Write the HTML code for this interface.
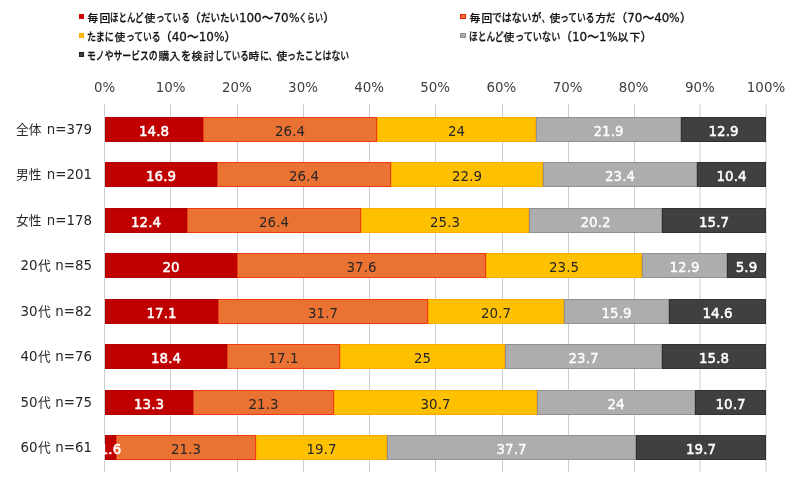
<!DOCTYPE html>
<html lang="ja"><head><meta charset="utf-8"><title>chart</title>
<style>
html,body{margin:0;padding:0;background:#fff;}
body{width:800px;height:486px;position:relative;overflow:hidden;font-family:"DejaVu Sans","Noto Sans CJK JP",sans-serif;color:#404040;}
.abs{position:absolute;}
.grid{position:absolute;top:104px;width:1px;height:368px;background:#cdcdcd;}
.ax{position:absolute;top:79px;width:60px;margin-left:-30px;text-align:center;font-size:13.4px;line-height:18px;color:#404040;}
.cat{position:absolute;left:0;width:92px;text-align:right;font-size:13.4px;line-height:20px;color:#262626;white-space:nowrap;}
.kj{display:inline-block;transform:scale(0.95);transform-origin:0 55%;}
.seg{position:absolute;height:25px;box-sizing:border-box;text-align:center;font-size:13.4px;line-height:27px;white-space:nowrap;overflow:visible;}
.seg span{position:absolute;left:50%;top:0;transform:translateX(-50%);z-index:2;}
.r{background:#c00000;border:1px solid #b00000;color:#fff;-webkit-text-stroke:0.5px #fff;}
.o{background:#ea7333;border:1px solid #f03a10;color:#262626;}
.y{background:#ffc000;border:1px solid #ffaa00;color:#262626;}
.g{background:#adadad;border:1px solid #909090;color:#fff;-webkit-text-stroke:0.35px #fff;}
.k{background:#404040;border:1px solid #303030;color:#fff;-webkit-text-stroke:0.5px #fff;}
.lg{position:absolute;font-size:11.7px;line-height:18px;color:#111;-webkit-text-stroke:0.27px #111;white-space:nowrap;font-weight:500;font-family:"DejaVu Sans","Noto Sans CJK JP",sans-serif;}
.nm{font-size:11.95px;}
.kj2{display:inline-block;transform:scale(0.92);transform-origin:50% 58%;}
.kn{display:inline-block;transform-origin:0 50%;}
.pc{display:inline-block;transform:scaleX(0.93);transform-origin:0 50%;margin-right:-0.0665em;}
.mk{position:absolute;width:5.5px;height:5.5px;box-sizing:border-box;}
</style></head><body>

<div class="grid" style="left:104px"></div>
<div class="ax" style="left:104.5px">0%</div>
<div class="grid" style="left:170px"></div>
<div class="ax" style="left:170.7px">10%</div>
<div class="grid" style="left:237px"></div>
<div class="ax" style="left:236.8px">20%</div>
<div class="grid" style="left:303px"></div>
<div class="ax" style="left:303.0px">30%</div>
<div class="grid" style="left:369px"></div>
<div class="ax" style="left:369.1px">40%</div>
<div class="grid" style="left:435px"></div>
<div class="ax" style="left:435.2px">50%</div>
<div class="grid" style="left:502px"></div>
<div class="ax" style="left:501.4px">60%</div>
<div class="grid" style="left:568px"></div>
<div class="ax" style="left:567.6px">70%</div>
<div class="grid" style="left:634px"></div>
<div class="ax" style="left:633.7px">80%</div>
<div class="grid" style="left:699px;width:2px;background:#e6e6e6"></div>
<div class="ax" style="left:699.9px">90%</div>
<div class="grid" style="left:765px;width:2px;background:#e6e6e6"></div>
<div class="ax" style="left:766.0px">100%</div>
<div class="cat" style="top:120.0px"><span class="kj">全体</span> n=379</div>
<div class="seg r" style="left:105px;top:117px;width:98px"><span>14.8</span></div>
<div class="seg o" style="left:203px;top:117px;width:174px"><span>26.4</span></div>
<div class="seg y" style="left:377px;top:117px;width:159px"><span>24</span></div>
<div class="seg g" style="left:536px;top:117px;width:145px"><span>21.9</span></div>
<div class="seg k" style="left:681px;top:117px;width:85px"><span>12.9</span></div>
<div class="cat" style="top:165.4px"><span class="kj">男性</span> n=201</div>
<div class="seg r" style="left:105px;top:162px;width:112px"><span>16.9</span></div>
<div class="seg o" style="left:217px;top:162px;width:174px"><span>26.4</span></div>
<div class="seg y" style="left:391px;top:162px;width:152px"><span>22.9</span></div>
<div class="seg g" style="left:543px;top:162px;width:154px"><span>23.4</span></div>
<div class="seg k" style="left:697px;top:162px;width:69px"><span>10.4</span></div>
<div class="cat" style="top:210.9px"><span class="kj">女性</span> n=178</div>
<div class="seg r" style="left:105px;top:208px;width:82px"><span>12.4</span></div>
<div class="seg o" style="left:187px;top:208px;width:174px"><span>26.4</span></div>
<div class="seg y" style="left:361px;top:208px;width:168px"><span>25.3</span></div>
<div class="seg g" style="left:529px;top:208px;width:133px"><span>20.2</span></div>
<div class="seg k" style="left:662px;top:208px;width:104px"><span>15.7</span></div>
<div class="cat" style="top:256.3px">20<span class="kj">代</span> n=85</div>
<div class="seg r" style="left:105px;top:253px;width:132px"><span>20</span></div>
<div class="seg o" style="left:237px;top:253px;width:249px"><span>37.6</span></div>
<div class="seg y" style="left:486px;top:253px;width:156px"><span>23.5</span></div>
<div class="seg g" style="left:642px;top:253px;width:85px"><span>12.9</span></div>
<div class="seg k" style="left:727px;top:253px;width:39px"><span>5.9</span></div>
<div class="cat" style="top:301.7px">30<span class="kj">代</span> n=82</div>
<div class="seg r" style="left:105px;top:299px;width:113px"><span>17.1</span></div>
<div class="seg o" style="left:218px;top:299px;width:210px"><span>31.7</span></div>
<div class="seg y" style="left:428px;top:299px;width:136px"><span>20.7</span></div>
<div class="seg g" style="left:564px;top:299px;width:105px"><span>15.9</span></div>
<div class="seg k" style="left:669px;top:299px;width:97px"><span>14.6</span></div>
<div class="cat" style="top:347.2px">40<span class="kj">代</span> n=76</div>
<div class="seg r" style="left:105px;top:344px;width:122px"><span>18.4</span></div>
<div class="seg o" style="left:227px;top:344px;width:113px"><span>17.1</span></div>
<div class="seg y" style="left:340px;top:344px;width:165px"><span>25</span></div>
<div class="seg g" style="left:505px;top:344px;width:157px"><span>23.7</span></div>
<div class="seg k" style="left:662px;top:344px;width:104px"><span>15.8</span></div>
<div class="cat" style="top:392.6px">50<span class="kj">代</span> n=75</div>
<div class="seg r" style="left:105px;top:390px;width:88px"><span>13.3</span></div>
<div class="seg o" style="left:193px;top:390px;width:141px"><span>21.3</span></div>
<div class="seg y" style="left:334px;top:390px;width:203px"><span>30.7</span></div>
<div class="seg g" style="left:537px;top:390px;width:158px"><span>24</span></div>
<div class="seg k" style="left:695px;top:390px;width:71px"><span>10.7</span></div>
<div class="cat" style="top:438.0px">60<span class="kj">代</span> n=61</div>
<div class="seg r" style="left:105px;top:435px;width:11px"><span>1.6</span></div>
<div class="seg o" style="left:116px;top:435px;width:140px"><span>21.3</span></div>
<div class="seg y" style="left:256px;top:435px;width:131px"><span>19.7</span></div>
<div class="seg g" style="left:387px;top:435px;width:249px"><span>37.7</span></div>
<div class="seg k" style="left:636px;top:435px;width:130px"><span>19.7</span></div>
<div class="mk" style="left:78.5px;top:13.85px;background:#c00000;border:1px solid #e00000"></div>
<div class="lg" id="lg0" style="left:87px;top:9.2px"><span class="kj2">毎</span><span class="kj2">回</span><span class="kn" style="transform:scaleX(0.722);margin-right:-1.112em">ほとんど</span><span class="kj2">使</span><span class="kn" style="transform:scaleX(0.729);margin-right:-1.084em">っている</span>（<span class="kn" style="transform:scaleX(0.816);margin-right:-0.736em">だいたい</span><span class="nm">100</span>～<span class="nm">70</span><span class="nm pc">%</span><span class="kn" style="transform:scaleX(0.684);margin-right:-0.948em">くらい</span>）</div>
<div class="mk" style="left:78.5px;top:32.85px;background:#ffc000;border:1px solid #ffaa00"></div>
<div class="lg" id="lg1" style="left:87px;top:28.2px"><span class="kn" style="transform:scaleX(0.775);margin-right:-0.675em">たまに</span><span class="kj2">使</span><span class="kn" style="transform:scaleX(0.75);margin-right:-1.000em">っている</span>（<span class="nm">40</span>～<span class="nm">10</span><span class="nm pc">%</span>）</div>
<div class="mk" style="left:78.5px;top:51.95px;background:#404040;border:1px solid #202020"></div>
<div class="lg" id="lg2" style="left:87px;top:47.3px"><span class="kn" style="transform:scaleX(0.756);margin-right:-1.952em">モノやサービスの</span><span class="kj2">購</span><span class="kj2">入</span><span class="kn" style="transform:scaleX(0.87);margin-right:-0.130em">を</span><span class="kj2">検</span><span class="kj2">討</span><span class="kn" style="transform:scaleX(0.726);margin-right:-1.096em">している</span><span class="kj2">時</span><span class="kn" style="transform:scaleX(0.78);margin-right:-0.220em">に</span><span class="kn" style="transform:scaleX(0.555);margin-right:-0.445em">、</span><span class="kj2">使</span><span class="kn" style="transform:scaleX(0.76);margin-right:-1.680em">ったことはない</span></div>
<div class="mk" style="left:460.2px;top:13.55px;background:#ea7333;border:1px solid #f02000"></div>
<div class="lg" id="lg3" style="left:469px;top:8.9px"><span class="kj2">毎</span><span class="kj2">回</span><span class="kn" style="transform:scaleX(0.844);margin-right:-0.780em">ではないが</span><span class="kn" style="transform:scaleX(0.58);margin-right:-0.420em">、</span><span class="kj2">使</span><span class="kn" style="transform:scaleX(0.746);margin-right:-1.016em">っている</span><span class="kj2">方</span><span class="kn" style="transform:scaleX(0.795);margin-right:-0.205em">だ</span>（<span class="nm">70</span>～<span class="nm">40</span><span class="nm pc">%</span>）</div>
<div class="mk" style="left:460.2px;top:32.65px;background:#adadad;border:1px solid #909090"></div>
<div class="lg" id="lg4" style="left:469px;top:28.0px"><span class="kn" style="transform:scaleX(0.744);margin-right:-1.024em">ほとんど</span><span class="kj2">使</span><span class="kn" style="transform:scaleX(0.783);margin-right:-1.085em">っていない</span>（<span class="nm">10</span>～<span class="nm">1</span><span class="nm pc">%</span><span class="kj2">以</span><span class="kj2">下</span>）</div>
</body></html>
